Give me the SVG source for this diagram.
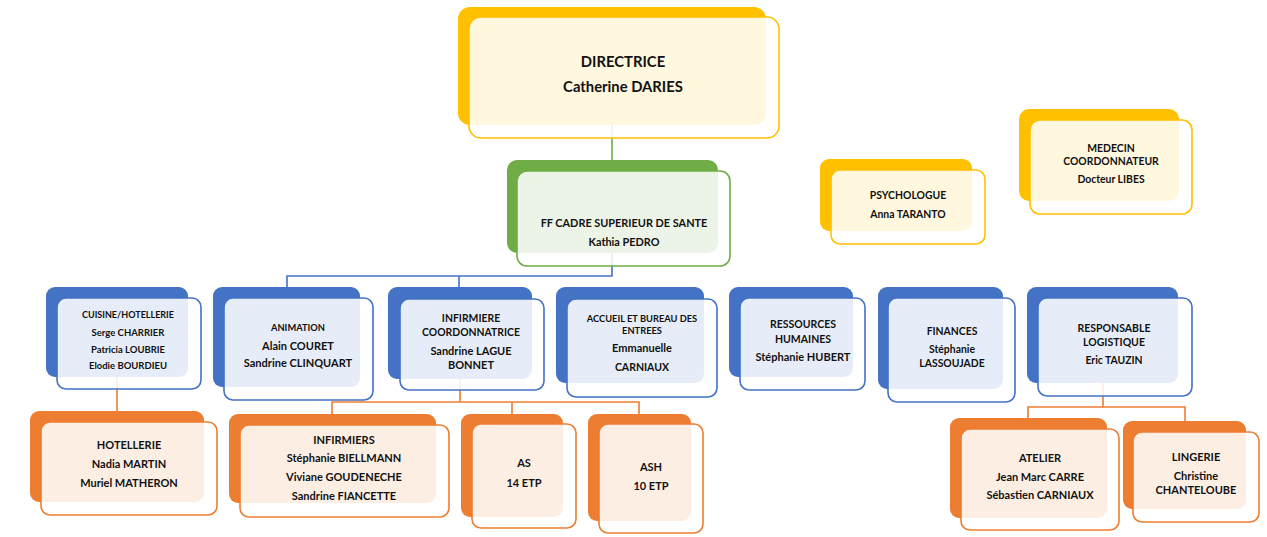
<svg xmlns="http://www.w3.org/2000/svg" width="1267" height="537" viewBox="0 0 1267 537">
<style>
text{font-family:Lato,"Liberation Sans",sans-serif;font-weight:bold;fill:#111;text-anchor:middle}
.fr{fill:#fff;fill-opacity:.87;stroke-width:1.6}
.by{fill:#FFC000}.fy{stroke:#FFC000}
.bg{fill:#70AD47}.fg{stroke:#70AD47}
.bb{fill:#4472C4}.fb{stroke:#4472C4}
.bo{fill:#ED7D31}.fo{stroke:#ED7D31}
.c{fill:none;stroke-width:1.6}
.s14{font-size:14.8px}.s10{font-size:10.4px}.s109{font-size:10.9px}.s11{font-size:11px}.s9{font-size:9px}.s93{font-size:9.3px}.s95{font-size:9.5px}.s104{font-size:10.5px}.s106{font-size:11px}
</style>
<g id="connectors">
<path class="c" stroke="#70AD47" d="M612,125 V160"/>
<path class="c" stroke="#4472C4" d="M612,253 V276 H287 V287 M459,276 V287"/>
<path class="c" stroke="#ED7D31" d="M117,377 V411"/>
<path class="c" stroke="#ED7D31" d="M460,379 V402 M332,414 V402 H639 V414 M512,402 V414"/>
<path class="c" stroke="#ED7D31" d="M1103,383 V407 M1028,418 V407 H1185 V421"/>
</g>
<g id="directrice">
<rect class="by" x="458" y="7" width="308" height="118" rx="12"/>
<rect class="fr fy" x="469" y="17" width="310" height="121" rx="12"/>
<text class="s14" x="623" y="67">DIRECTRICE</text>
<text class="s14" x="623" y="92">Catherine DARIES</text>
</g>
<g id="cadre">
<rect class="bg" x="507" y="160" width="211" height="93" rx="10"/>
<rect class="fr fg" x="517" y="171" width="213" height="95" rx="10"/>
<text class="s109" x="624" y="227">FF CADRE SUPERIEUR DE SANTE</text>
<text class="s109" x="624" y="246">Kathia PEDRO</text>
</g>
<g id="psychologue">
<rect class="by" x="820" y="159" width="152" height="72" rx="9"/>
<rect class="fr fy" x="831" y="170" width="154" height="74" rx="9"/>
<text class="s10" x="908" y="199">PSYCHOLOGUE</text>
<text class="s10" x="908" y="218">Anna TARANTO</text>
</g>
<g id="medecin">
<rect class="by" x="1019" y="109" width="160" height="92" rx="10"/>
<rect class="fr fy" x="1030" y="120" width="162" height="94" rx="10"/>
<text class="s10" x="1111" y="152">MEDECIN</text>
<text class="s10" x="1111" y="165">COORDONNATEUR</text>
<text class="s10" x="1111" y="183">Docteur LIBES</text>
</g>
<g id="cuisine">
<rect class="bb" x="46" y="287" width="142" height="90" rx="9"/>
<rect class="fr fb" x="57" y="298" width="144" height="91" rx="9"/>
<text class="s9" x="128" y="318">CUISINE/HOTELLERIE</text>
<text class="s95" x="128" y="336">Serge CHARRIER</text>
<text class="s95" x="128" y="353">Patricia LOUBRIE</text>
<text class="s95" x="128" y="369">Elodie BOURDIEU</text>
</g>
<g id="animation">
<rect class="bb" x="213" y="287" width="147" height="100" rx="9"/>
<rect class="fr fb" x="224" y="298" width="149" height="102" rx="9"/>
<text class="s93" x="298" y="331">ANIMATION</text>
<text class="s11" x="298" y="350">Alain COURET</text>
<text class="s11" x="298" y="367">Sandrine CLINQUART</text>
</g>
<g id="infirmiere">
<rect class="bb" x="388" y="287" width="144" height="92" rx="9"/>
<rect class="fr fb" x="400" y="299" width="144" height="91" rx="9"/>
<text class="s10" x="471" y="322">INFIRMIERE</text>
<text class="s10" x="471" y="336">COORDONNATRICE</text>
<text class="s11" x="471" y="355">Sandrine LAGUE</text>
<text class="s11" x="471" y="369">BONNET</text>
</g>
<g id="accueil">
<rect class="bb" x="556" y="287" width="148" height="96" rx="9"/>
<rect class="fr fb" x="567" y="299" width="150" height="98" rx="9"/>
<text class="s93" x="642" y="322">ACCUEIL ET BUREAU DES</text>
<text class="s93" x="642" y="334">ENTREES</text>
<text class="s11" x="642" y="352">Emmanuelle</text>
<text class="s104" x="642" y="371">CARNIAUX</text>
</g>
<g id="rh">
<rect class="bb" x="729" y="287" width="124" height="90" rx="9"/>
<rect class="fr fb" x="740" y="298" width="125" height="92" rx="9"/>
<text class="s104" x="803" y="328">RESSOURCES</text>
<text class="s104" x="803" y="343">HUMAINES</text>
<text class="s11" x="803" y="361">Stéphanie HUBERT</text>
</g>
<g id="finances">
<rect class="bb" x="878" y="287" width="125" height="102" rx="9"/>
<rect class="fr fb" x="888" y="298" width="127" height="104" rx="9"/>
<text class="s10" x="952" y="335">FINANCES</text>
<text class="s10" x="952" y="353">Stéphanie</text>
<text class="s10" x="952" y="367">LASSOUJADE</text>
</g>
<g id="logistique">
<rect class="bb" x="1027" y="287" width="151" height="96" rx="9"/>
<rect class="fr fb" x="1038" y="298" width="154" height="98" rx="9"/>
<text class="s104" x="1114" y="332">RESPONSABLE</text>
<text class="s104" x="1114" y="346">LOGISTIQUE</text>
<text class="s10" x="1114" y="364">Eric TAUZIN</text>
</g>
<g id="hotellerie">
<rect class="bo" x="30" y="411" width="174" height="91" rx="9"/>
<rect class="fr fo" x="41" y="422" width="176" height="93" rx="9"/>
<text class="s106" x="129" y="449">HOTELLERIE</text>
<text class="s106" x="129" y="468">Nadia MARTIN</text>
<text class="s106" x="129" y="487">Muriel MATHERON</text>
</g>
<g id="infirmiers">
<rect class="bo" x="229" y="414" width="207" height="89" rx="9"/>
<rect class="fr fo" x="240" y="425" width="209" height="92" rx="9"/>
<text class="s106" x="344" y="444">INFIRMIERS</text>
<text class="s106" x="344" y="462">Stéphanie BIELLMANN</text>
<text class="s106" x="344" y="481">Viviane GOUDENECHE</text>
<text class="s106" x="344" y="500">Sandrine FIANCETTE</text>
</g>
<g id="as">
<rect class="bo" x="461" y="414" width="102" height="103" rx="9"/>
<rect class="fr fo" x="472" y="424" width="104" height="104" rx="9"/>
<text class="s106" x="524" y="467">AS</text>
<text class="s106" x="524" y="487">14 ETP</text>
</g>
<g id="ash">
<rect class="bo" x="588" y="414" width="103" height="107" rx="9"/>
<rect class="fr fo" x="599" y="424" width="104" height="109" rx="9"/>
<text class="s106" x="651" y="471">ASH</text>
<text class="s106" x="651" y="490">10 ETP</text>
</g>
<g id="atelier">
<rect class="bo" x="950" y="418" width="157" height="100" rx="9"/>
<rect class="fr fo" x="961" y="429" width="158" height="101" rx="9"/>
<text class="s106" x="1040" y="462">ATELIER</text>
<text class="s106" x="1040" y="481">Jean Marc CARRE</text>
<text class="s106" x="1040" y="499">Sébastien CARNIAUX</text>
</g>
<g id="lingerie">
<rect class="bo" x="1123" y="421" width="123" height="88" rx="9"/>
<rect class="fr fo" x="1133" y="432" width="126" height="90" rx="9"/>
<text class="s106" x="1196" y="461">LINGERIE</text>
<text class="s106" x="1196" y="480">Christine</text>
<text class="s106" x="1196" y="494">CHANTELOUBE</text>
</g>
</svg>
